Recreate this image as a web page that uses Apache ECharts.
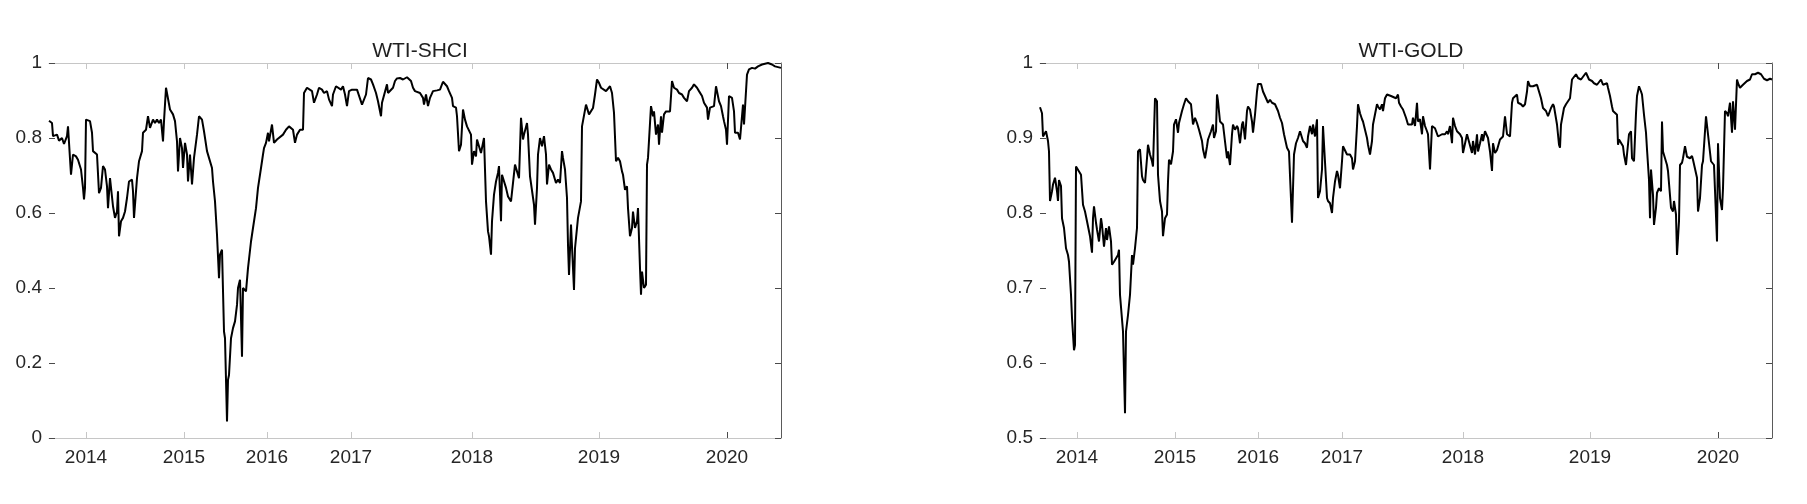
<!DOCTYPE html>
<html><head><meta charset="utf-8">
<script src="https://cdn.jsdelivr.net/npm/echarts@6/dist/echarts.min.js"></script>
<style>html,body{margin:0;padding:0;background:#fff}#c{width:1807px;height:504px}</style>
</head><body><div id="c"></div>
<script>
// observation index (0..732) of each year tick, and its label
const tickObs = [37, 135, 218, 302, 423, 550, 678];
const tickLabels = ['2014', '2015', '2016', '2017', '2018', '2019', '2020'];
const titles = ['WTI-SHCI', 'WTI-GOLD'];

// WTI-SHCI: [observation, correlation]
const shci = [
[0,0.846],[3,0.840],[4,0.805],[8,0.809],[10,0.793],[13,0.800],[15,0.784],[18,0.805],[19,0.831],[22,0.702],
[24,0.756],[27,0.751],[29,0.742],[32,0.716],[34,0.667],[35,0.636],[36,0.667],[37,0.849],[39,0.849],[41,0.845],
[43,0.814],[44,0.765],[46,0.769],[48,0.756],[50,0.653],[52,0.667],[54,0.725],[56,0.716],[58,0.671],[59,0.613],
[61,0.693],[63,0.689],[64,0.618],[66,0.587],[68,0.604],[69,0.658],[70,0.538],[72,0.578],[74,0.587],[76,0.604],
[78,0.640],[80,0.684],[83,0.689],[84,0.658],[85,0.587],[88,0.693],[90,0.738],[93,0.765],[94,0.814],[97,0.822],
[99,0.858],[101,0.827],[104,0.849],[106,0.840],[108,0.849],[110,0.840],[112,0.849],[114,0.791],[115,0.845],[117,0.934],
[119,0.929],[121,0.876],[124,0.863],[126,0.845],[128,0.791],[129,0.711],[131,0.800],[133,0.773],[134,0.720],[136,0.787],
[138,0.756],[139,0.684],[141,0.756],[143,0.676],[145,0.747],[148,0.809],[150,0.858],[153,0.849],[155,0.818],[158,0.765],
[160,0.747],[163,0.720],[164,0.684],[166,0.631],[168,0.542],[170,0.426],[171,0.489],[173,0.502],[175,0.284],[176,0.266],
[178,0.044],[179,0.155],[180,0.168],[182,0.266],[184,0.293],[186,0.311],[188,0.355],[189,0.400],[191,0.422],[193,0.217],
[194,0.400],[197,0.391],[199,0.453],[202,0.524],[204,0.560],[207,0.613],[209,0.667],[212,0.720],[214,0.756],[215,0.773],
[217,0.787],[219,0.814],[220,0.791],[223,0.836],[225,0.787],[228,0.796],[230,0.800],[234,0.809],[237,0.822],[240,0.831],
[244,0.822],[246,0.787],[248,0.809],[251,0.822],[254,0.822],[255,0.920],[258,0.934],[260,0.929],[263,0.925],[265,0.894],
[268,0.916],[270,0.934],[273,0.929],[275,0.920],[278,0.925],[280,0.903],[283,0.885],[284,0.916],[287,0.938],[289,0.934],
[292,0.929],[294,0.938],[296,0.916],[298,0.885],[300,0.925],[303,0.929],[305,0.925],[308,0.929],[310,0.925],[313,0.889],
[315,0.885],[317,0.916],[319,0.960],[322,0.956],[324,0.943],[327,0.920],[329,0.898],[332,0.858],[333,0.894],[335,0.894],
[338,0.943],[339,0.920],[341,0.925],[344,0.934],[346,0.952],[348,0.959],[351,0.960],[354,0.956],[356,0.959],[358,0.962],
[360,0.965],[362,0.952],[364,0.934],[366,0.925],[368,0.925],[371,0.920],[374,0.907],[375,0.889],[377,0.916],[379,0.885],
[381,0.907],[384,0.925],[386,0.920],[388,0.927],[391,0.929],[394,0.950],[396,0.947],[398,0.938],[400,0.925],[403,0.907],
[404,0.885],[407,0.881],[408,0.858],[410,0.765],[412,0.782],[414,0.876],[416,0.849],[418,0.831],[420,0.827],[422,0.809],
[423,0.729],[425,0.765],[427,0.751],[428,0.796],[430,0.800],[432,0.760],[434,0.756],[435,0.800],[437,0.631],[439,0.551],
[440,0.538],[442,0.489],[443,0.578],[445,0.649],[447,0.684],[449,0.707],[450,0.725],[452,0.578],[453,0.702],[455,0.707],
[457,0.667],[459,0.644],[462,0.631],[464,0.627],[466,0.729],[468,0.733],[470,0.693],[472,0.854],[474,0.796],[475,0.809],
[478,0.840],[479,0.809],[481,0.698],[483,0.693],[485,0.622],
[486,0.569],[488,0.667],[489,0.756],[491,0.800],[493,0.778],[495,0.805],[497,0.756],[498,0.676],[500,0.729],[502,0.716],
[504,0.707],[507,0.680],[509,0.689],[511,0.680],[513,0.765],[514,0.747],[516,0.716],[518,0.640],[519,0.515],[520,0.435],
[522,0.569],[524,0.453],[525,0.395],[526,0.506],[528,0.511],[529,0.587],[532,0.631],[533,0.831],[535,0.836],[537,0.889],
[539,0.894],[540,0.863],[542,0.858],[544,0.880],[546,0.916],[548,0.956],[550,0.947],[552,0.934],[554,0.934],[557,0.925],
[559,0.929],[561,0.938],[563,0.920],[565,0.867],[567,0.738],[569,0.747],[571,0.738],[573,0.711],[574,0.702],[576,0.662],
[578,0.671],[579,0.613],[581,0.538],[583,0.560],[584,0.604],[586,0.560],[588,0.578],[589,0.613],[591,0.453],[592,0.382],
[593,0.444],[595,0.400],[597,0.409],[598,0.729],[599,0.747],[602,0.885],[604,0.858],[605,0.871],[607,0.809],[609,0.836],
[610,0.782],[612,0.858],[613,0.814],[615,0.863],[617,0.871],[619,0.867],[621,0.871],[623,0.952],[625,0.934],[628,0.929],
[630,0.920],[633,0.916],[635,0.907],[638,0.898],[640,0.925],[643,0.934],[645,0.943],[648,0.934],[650,0.925],[653,0.912],
[655,0.894],[658,0.881],[659,0.849],[661,0.881],[663,0.885],[665,0.885],[667,0.938],[669,0.934],[670,0.898],[672,0.885],
[674,0.858],[675,0.845],[677,0.822],[678,0.782],[680,0.912],[681,0.912],[683,0.907],[685,0.871],[686,0.814],[688,0.809],
[689,0.814],[691,0.796],[693,0.800],[694,0.889],[695,0.836],[697,0.831],[698,0.969],[700,0.983],[703,0.987],[706,0.985],
[709,0.991],[713,0.996],[716,0.998],[719,1.000],[723,0.996],[726,0.991],[729,0.989],[732,0.987]
];

// WTI-GOLD: [observation, correlation]
const gold = [
[0,0.941],[2,0.933],[3,0.902],[6,0.909],[8,0.896],[9,0.882],[10,0.816],[12,0.829],[13,0.838],[15,0.847],
[17,0.829],[18,0.816],[19,0.844],[21,0.836],[22,0.793],[24,0.780],[26,0.753],[28,0.744],[29,0.735],[31,0.691],
[32,0.660],[34,0.617],[35,0.624],[36,0.862],[38,0.860],[41,0.851],[43,0.811],[45,0.802],[47,0.789],[48,0.787],
[50,0.769],[52,0.747],[53,0.793],[54,0.809],[56,0.787],[57,0.778],[59,0.762],[61,0.793],[62,0.784],[64,0.755],
[66,0.780],[67,0.764],[69,0.782],[71,0.762],[72,0.731],[74,0.735],[76,0.735],[78,0.744],[79,0.751],[80,0.691],
[82,0.691],[83,0.642],[85,0.533],[86,0.642],[88,0.664],[90,0.691],[92,0.744],[93,0.731],[95,0.753],[97,0.780],
[98,0.882],[100,0.885],[102,0.849],[103,0.844],[105,0.840],[107,0.873],[108,0.891],[110,0.878],[112,0.869],[113,0.862],
[115,0.953],[117,0.949],[118,0.851],[120,0.816],[122,0.802],[123,0.769],[125,0.793],[127,0.798],[128,0.842],[129,0.871],
[131,0.865],[133,0.882],[134,0.918],[136,0.925],[138,0.907],[139,0.920],[142,0.936],[144,0.945],[146,0.953],[148,0.949],
[151,0.945],[153,0.918],[155,0.927],[157,0.920],[159,0.911],[162,0.896],[163,0.885],[165,0.873],[167,0.889],[168,0.898],
[171,0.909],[173,0.918],[174,0.900],[176,0.909],
[177,0.958],[178,0.949],[180,0.922],[182,0.920],[183,0.918],[185,0.920],[187,0.873],[188,0.882],[190,0.864],[192,0.905],
[193,0.918],[195,0.911],[197,0.916],[198,0.913],[200,0.893],[202,0.918],[203,0.922],[205,0.898],[207,0.936],[208,0.942],
[210,0.938],[212,0.922],[213,0.907],[215,0.931],[217,0.962],[218,0.972],[221,0.972],[223,0.962],[225,0.956],[228,0.947],
[230,0.951],[232,0.947],[235,0.945],[238,0.936],[240,0.927],[242,0.920],[244,0.905],[246,0.905],[247,0.887],[249,0.882],
[251,0.880],[252,0.787],[254,0.878],[256,0.893],[258,0.900],[260,0.909],[262,0.911],[263,0.896],[265,0.893],[267,0.887],
[268,0.902],[270,0.916],[272,0.905],[273,0.918],[275,0.902],[277,0.925],[278,0.820],[280,0.829],[282,0.858],[283,0.916],
[285,0.916],[287,0.820],[288,0.816],[290,0.813],[292,0.800],[293,0.820],[295,0.842],[297,0.856],[298,0.851],[300,0.833],
[302,0.869],[303,0.889],[305,0.887],[307,0.878],[308,0.880],[310,0.878],[312,0.873],[313,0.858],[315,0.869],[317,0.916],
[318,0.945],[320,0.933],[322,0.925],[323,0.922],[325,0.911],[327,0.900],[328,0.891],[330,0.878],[332,0.896],[333,0.918],
[335,0.920],[337,0.945],[338,0.942],[340,0.938],[342,0.945],[343,0.936],[345,0.953],[347,0.958],[348,0.960],[351,0.956],
[353,0.958],[356,0.953],[358,0.958],[359,0.947],[361,0.942],[363,0.938],[366,0.927],[368,0.918],[370,0.916],[372,0.918],
[373,0.927],[375,0.916],[377,0.947],[378,0.922],[380,0.925],[382,0.905],[383,0.929],[385,0.916],[387,0.909],[388,0.905],
[390,0.858],[392,0.916],[393,0.916],[395,0.913],[397,0.911],[398,0.902],[400,0.902],[402,0.905],[403,0.907],[405,0.905],
[407,0.909],[408,0.905],[410,0.916],[412,0.893],[413,0.927],[415,0.916],[417,0.909],[418,0.911],[420,0.905],[422,0.900],
[423,0.880],[425,0.882],[427,0.905],[428,0.900],
[430,0.902],[432,0.880],[433,0.896],[435,0.878],[437,0.905],[438,0.882],[440,0.893],[442,0.905],[443,0.896],[445,0.909],
[447,0.907],[448,0.900],[450,0.882],[452,0.856],[453,0.893],[455,0.880],[457,0.884],[458,0.882],[460,0.898],[462,0.900],
[463,0.902],[465,0.929],[467,0.905],[468,0.905],[470,0.902],[472,0.947],[473,0.953],[477,0.958],[478,0.947],[481,0.945],
[483,0.942],[485,0.945],[487,0.962],[488,0.976],[490,0.969],[493,0.969],[495,0.971],[497,0.971],[499,0.971],[501,0.953],
[503,0.940],[504,0.940],[506,0.936],[508,0.929],[509,0.927],[511,0.940],[513,0.945],[514,0.942],[516,0.940],[517,0.918],
[519,0.891],[520,0.887],[521,0.918],[523,0.918],[524,0.940],[526,0.945],[528,0.945],[530,0.953],[532,0.978],[533,0.980],
[536,0.985],[538,0.980],[541,0.978],[543,0.980],[546,0.987],[547,0.985],[549,0.978],[552,0.976],[554,0.973],[557,0.971],
[559,0.971],[561,0.978],[563,0.971],[565,0.971],[567,0.973],[568,0.967],[570,0.956],[572,0.942],[573,0.936],[575,0.938],
[577,0.931],[578,0.891],[579,0.898],[581,0.898],[583,0.889],[584,0.878],[586,0.864],[587,0.878],[589,0.905],[591,0.909],
[592,0.873],[594,0.869],[596,0.933],[597,0.956],[599,0.969],[601,0.962],[602,0.958],[604,0.931],[606,0.907],[607,0.885],
[609,0.844],[610,0.793],[611,0.858],[613,0.824],[614,0.784],[616,0.807],[617,0.827],[619,0.833],[621,0.829],[622,0.922],
[623,0.882],[625,0.880],[627,0.864],[628,0.856],[630,0.858],[631,0.807],[633,0.802],[634,0.816],[636,0.798],[637,0.744],
[639,0.789],[640,0.864],[642,0.867],[643,0.873],[645,0.889],[647,0.875],[648,0.873],[650,0.873],[652,0.876],[653,0.871],
[655,0.869],[657,0.847],[658,0.802],[660,0.820],[662,0.864],[663,0.869],[665,0.869],[666,0.929],[668,0.905],[669,0.893],
[671,0.869],[673,0.869],[674,0.864],[676,0.864],[677,0.762],[678,0.893],[680,0.820],[682,0.804],[683,0.833],[685,0.936],
[687,0.933],[688,0.929],[690,0.947],[692,0.907],[693,0.949],[695,0.911],[697,0.978],[698,0.973],[700,0.967],[702,0.969],
[703,0.971],[705,0.969],[707,0.976],[708,0.976],[710,0.978],[712,0.985],[713,0.987],[715,0.985],
[718,0.987],[721,0.985],[724,0.979],[727,0.977],[730,0.979],[732,0.978]
];

const yRanges = [{min: 0, max: 1, interval: 0.2}, {min: 0.5, max: 1, interval: 0.1}];
const seriesData = [shci, gold];

const FONT = "'Liberation Sans', Arial, Helvetica, sans-serif";
const LABEL = '#262626';
const LIGHT = '#c6c6c6';
const DARK = '#4a4a4a';
const OBS_MAX = 732;

const chart = echarts.init(document.getElementById('c'), null, {renderer: 'canvas'});

const grids = [
  {left: 49, top: 63, width: 732, height: 375},
  {left: 1040, top: 63, width: 732, height: 375}
];

const xAxis = [], yAxis = [], series = [], title = [];
grids.forEach((g, gi) => {
  title.push({
    text: titles[gi], left: g.left + g.width / 2, top: 36, textAlign: 'center',
    textStyle: {fontFamily: FONT, fontSize: 21, fontWeight: 'normal', color: '#1f1f1f'}
  });
  const base = {gridIndex: gi, type: 'value', min: 0, max: OBS_MAX, splitLine: {show: false}};
  // bottom axis with year labels
  xAxis.push(Object.assign({}, base, {
    position: 'bottom',
    axisLine: {onZero: false, lineStyle: {color: LIGHT, width: 1}},
    axisTick: {show: true, inside: true, length: 6, customValues: tickObs, lineStyle: {color: LIGHT}},
    axisLabel: {show: true, customValues: tickObs, margin: 10, fontFamily: FONT, fontSize: 19, color: LABEL,
      formatter: v => tickLabels[tickObs.indexOf(v)] || ''}
  }));
  // top border with ticks
  xAxis.push(Object.assign({}, base, {
    position: 'top',
    axisLine: {onZero: false, lineStyle: {color: LIGHT, width: 1}},
    axisTick: {show: true, inside: true, length: 6, customValues: tickObs, lineStyle: {color: LIGHT}},
    axisLabel: {show: false}
  }));
  // darker 2020 ticks
  ['bottom', 'top'].forEach(p => {
    xAxis.push(Object.assign({}, base, {
      position: p,
      axisLine: {show: false, onZero: false},
      axisTick: {show: true, inside: true, length: 6, customValues: [tickObs[6]], lineStyle: {color: DARK}},
      axisLabel: {show: false}
    }));
  });
  const yr = yRanges[gi];
  yAxis.push({
    gridIndex: gi, type: 'value', min: yr.min, max: yr.max, interval: yr.interval, position: 'left',
    splitLine: {show: false},
    axisLine: {show: false, onZero: false},
    axisTick: {show: true, inside: true, length: 6, lineStyle: {color: DARK}},
    axisLabel: {margin: 7, fontFamily: FONT, fontSize: 19, color: LABEL}
  });
  yAxis.push({
    gridIndex: gi, type: 'value', min: yr.min, max: yr.max, interval: yr.interval, position: 'right',
    splitLine: {show: false},
    axisLine: {show: true, onZero: false, lineStyle: {color: '#5a5a5a', width: 1}},
    axisTick: {show: true, inside: true, length: 6, lineStyle: {color: DARK}},
    axisLabel: {show: false}
  });
  series.push({
    type: 'line', xAxisIndex: gi * 4, yAxisIndex: gi * 2, data: seriesData[gi],
    showSymbol: false, symbol: 'none', silent: true,
    lineStyle: {color: '#000', width: 2}, z: 5
  });
});

chart.setOption({
  animation: false,
  backgroundColor: '#fff',
  title, grid: grids, xAxis, yAxis, series
});
</script>
</body></html>
